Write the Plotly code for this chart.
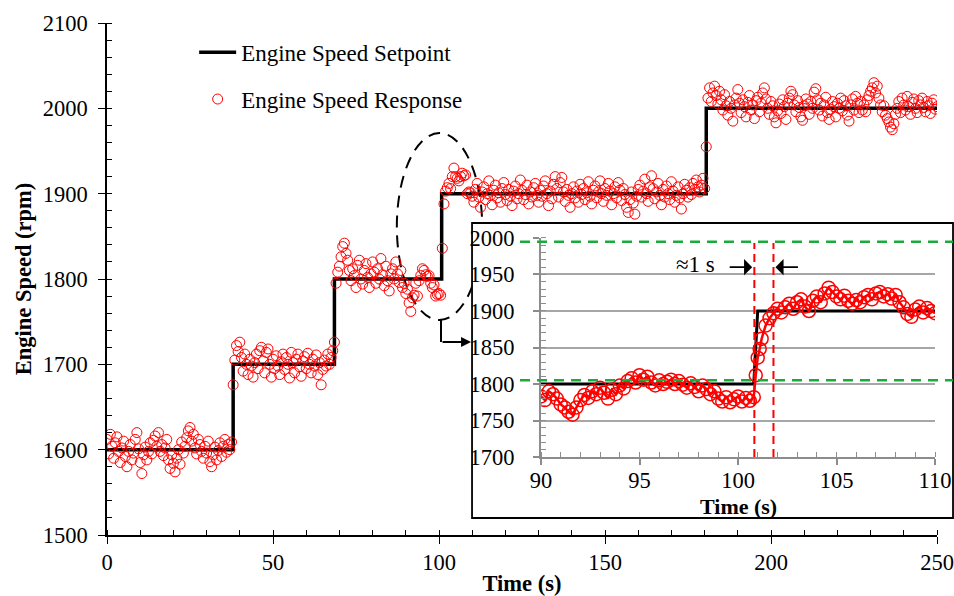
import plotly.graph_objects as go

# ---------------- data ----------------
# main chart: response sampled every 0.5 s from 0 to 250 s
main_time = [i * 0.5 for i in range(501)]

seg_1600 = [1612, 1595, 1618, 1604, 1590, 1608, 1615, 1598, 1585, 1602,
            1610, 1592, 1580, 1598, 1606, 1588, 1596, 1612, 1620, 1601,
            1585, 1572, 1594, 1603, 1588, 1598, 1608, 1595, 1611, 1616,
            1604, 1620, 1598, 1606, 1593, 1602, 1612, 1588, 1578, 1594,
            1584, 1574, 1590, 1600, 1583, 1609, 1596, 1604, 1614, 1622,
            1626, 1610, 1618, 1602, 1595, 1612, 1606, 1598, 1590, 1604,
            1596, 1610, 1586, 1580, 1594, 1603, 1588, 1599, 1608, 1592,
            1604, 1612, 1597, 1606, 1600, 1609]
step_1 = [1676]
seg_1700 = [1705, 1722, 1715, 1726, 1708, 1692, 1712, 1700, 1688, 1706,
            1698, 1685, 1702, 1712, 1695, 1716, 1720, 1704, 1690, 1714,
            1718, 1700, 1685, 1706, 1695, 1710, 1698, 1688, 1703, 1712,
            1694, 1708, 1700, 1684, 1714, 1702, 1690, 1706, 1712, 1697,
            1686, 1704, 1709, 1695, 1713, 1700, 1690, 1706, 1698, 1711,
            1688, 1702, 1676, 1694, 1705, 1698, 1712, 1700, 1708, 1716]
step_2 = [1726]
seg_1800 = [1795, 1808, 1815, 1826, 1838, 1842, 1830, 1822, 1810, 1798,
            1812, 1804, 1790, 1816, 1822, 1800, 1794, 1810, 1818, 1802,
            1790, 1806, 1820, 1808, 1795, 1812, 1800, 1824, 1805, 1792,
            1815, 1798, 1786, 1806, 1812, 1800, 1820, 1806, 1796, 1810,
            1790, 1795, 1783, 1788, 1772, 1762, 1778, 1781, 1795, 1780,
            1798, 1804, 1812, 1810, 1805, 1803, 1804, 1795, 1790, 1793,
            1780, 1782, 1783, 1781]
seg_1900 = [1836, 1888, 1903, 1907, 1912, 1906, 1920, 1930, 1920, 1918,
            1915, 1920, 1924, 1921, 1922, 1900, 1902, 1901, 1897,
            1890, 1905, 1912, 1896, 1884, 1902, 1908, 1893, 1900, 1915,
            1898, 1887, 1904, 1910, 1895, 1901, 1890, 1906, 1913, 1899,
            1892, 1905, 1897, 1886, 1903, 1909, 1894, 1900, 1916, 1904,
            1893, 1899, 1910, 1888, 1902, 1896, 1907, 1912, 1898, 1890,
            1904, 1897, 1909, 1915, 1900, 1886, 1903, 1894, 1911, 1920,
            1906, 1896, 1913, 1919, 1902, 1891, 1905, 1898, 1884, 1900,
            1908, 1895, 1903, 1890, 1911, 1899, 1906, 1893, 1901, 1914,
            1897, 1888, 1904, 1909, 1895, 1902, 1915, 1900, 1891, 1906,
            1898, 1912, 1903, 1887, 1900, 1908, 1895, 1913, 1904, 1892,
            1906, 1899, 1884, 1878, 1893, 1902, 1889, 1876, 1897, 1905,
            1910, 1896, 1903, 1917, 1900, 1891, 1908, 1921, 1906, 1894,
            1902, 1912, 1898, 1887, 1905, 1896, 1909, 1900, 1893, 1914,
            1903, 1890, 1898, 1908, 1895, 1882, 1900, 1911, 1904, 1896,
            1907, 1899, 1912, 1905, 1916, 1908, 1902, 1910, 1918, 1906]
step_3 = [1955]
seg_2000 = [2012, 2024, 2008, 2018, 2026, 2015, 2005, 2020, 2010, 1998,
            2016, 2003, 1992, 2008, 2000, 1985, 2004, 2012, 2022, 2006,
            1995, 2010, 2002, 1990, 2007, 2015, 1998, 2004, 1988, 2009,
            2013, 1996, 2006, 2018, 2024, 2011, 2000, 1993, 2008, 2003,
            1990, 1983, 1997, 2005, 1994, 2010, 2002, 1987, 2006, 2012,
            2020, 2016, 2004, 1996, 2009, 2001, 1990, 1986, 2003, 2011,
            2005, 1993, 2008, 2000, 2019, 2023, 2010, 1998, 2006, 1991,
            2004, 2013, 1995, 1987, 1999, 2008, 2002, 1990, 2006, 2000,
            2012, 1997, 2009, 2003, 1992, 1985, 2004, 2011, 1998, 2014,
            2006, 1995, 2008, 1998, 2004, 1996, 2010, 2015, 2020, 2024,
            2030, 2018, 2026, 2012, 2004, 1996, 2003, 1992, 1988, 1984,
            1978, 1975, 1982, 1993, 2000, 2008, 1995, 2012, 2004, 1998,
            2014, 2002, 1993, 2007, 2011, 2000, 1995, 2009, 2004, 2012,
            2001, 1996, 2008, 2003, 1994, 2006, 2010, 1999, 2002]
main_rpm = seg_1600 + step_1 + seg_1700 + step_2 + seg_1800 + seg_1900 + step_3 + seg_2000

setpoint_time = [0, 38, 68.5, 100.8, 180.5, 250]
setpoint_rpm = [1600, 1700, 1800, 1900, 2000, 2000]

# inset (zoom of 90-110 s)
inset_time = ([round(90 + 0.2 * i, 1) for i in range(55)]
              + [100.9, 101.0, 101.1, 101.2, 101.4, 101.6, 101.8]
              + [round(102 + 0.2 * i, 1) for i in range(41)])
inset_rpm = [1783, 1778, 1790, 1786, 1780, 1772, 1768, 1762, 1758, 1768,
             1778, 1785, 1781, 1790, 1786, 1795, 1788, 1780, 1792, 1786,
             1798, 1794, 1804, 1808, 1802, 1812, 1806, 1810, 1802, 1798,
             1805, 1800, 1803, 1806, 1800, 1804, 1799, 1795, 1801, 1796,
             1790, 1798, 1793, 1786, 1790, 1780, 1776, 1782, 1775, 1779,
             1783, 1776, 1781, 1777, 1782,
             1812, 1836, 1848, 1862, 1880, 1890, 1897,
             1903, 1898, 1905, 1910, 1903, 1912, 1916, 1906, 1900, 1914,
             1920, 1912, 1924, 1932, 1926, 1920, 1916, 1921, 1914, 1910,
             1915, 1912, 1919, 1922, 1916, 1924, 1926, 1920, 1923, 1917,
             1922, 1912, 1905, 1896, 1892, 1902, 1906, 1898, 1904, 1900,
             1897]
inset_set_time = [90, 100.8, 101.0, 110]
inset_set_rpm = [1800, 1800, 1900, 1900]

band_upper, band_lower = 1995, 1805
settle_start, settle_end = 100.83, 101.8

FONT = "Liberation Serif"
RED = "#ff0000"

fig = go.Figure()

fig.add_trace(go.Scatter(
    x=setpoint_time, y=setpoint_rpm, mode="lines", line_shape="hv",
    line=dict(color="black", width=3.5), name="Engine Speed Setpoint",
    legendgroup="a"))
fig.add_trace(go.Scatter(
    x=main_time, y=main_rpm, mode="markers",
    marker=dict(symbol="circle-open", size=10, color=RED, line=dict(width=1)),
    name="Engine Speed Response", legendgroup="b"))

fig.add_trace(go.Scatter(
    x=inset_set_time, y=inset_set_rpm, mode="lines",
    line=dict(color="black", width=3), xaxis="x2", yaxis="y2", showlegend=False))
fig.add_trace(go.Scatter(
    x=inset_time, y=inset_rpm, mode="lines+markers",
    line=dict(color=RED, width=2.5),
    marker=dict(symbol="circle-open", size=13, color=RED, line=dict(width=1.5)),
    xaxis="x2", yaxis="y2", showlegend=False))

tickfont = dict(family=FONT, size=22.5, color="black")
titlefont = dict(family=FONT, size=22.5, color="black", weight="bold")

fig.update_layout(
    template="none",
    width=954, height=596,
    margin=dict(l=107, r=17, t=23, b=61, autoexpand=False),
    paper_bgcolor="white", plot_bgcolor="white",
    font=dict(family=FONT, color="black"),
    showlegend=True,
    legend=dict(x=0.105, y=0.985, xanchor="left", yanchor="top",
                font=dict(family=FONT, size=23, color="black"),
                itemwidth=37,
                bgcolor="rgba(0,0,0,0)", borderwidth=0, tracegroupgap=14),
    xaxis=dict(range=[0, 250], domain=[0, 1], showgrid=False, zeroline=False,
               automargin=False, ticklabeloverflow="allow",
               showline=True, linecolor="black", linewidth=1.5,
               tickmode="linear", tick0=0, dtick=50, ticks="outside", ticklen=7,
               tickwidth=1.2, tickcolor="black", tickfont=tickfont,
               ticklabelstandoff=-1,
               minor=dict(dtick=10, ticks="inside", ticklen=5, tickcolor="black", tickwidth=1),
               title=dict(text="Time (s)", font=titlefont, standoff=2)),
    yaxis=dict(range=[1500, 2100], domain=[0, 1], showgrid=False, zeroline=False,
               automargin=False, ticklabeloverflow="allow",
               showline=True, linecolor="black", linewidth=1.5,
               tickmode="linear", tick0=1500, dtick=100, ticks="outside", ticklen=7,
               tickwidth=1.2, tickcolor="black", tickfont=tickfont,
               ticklabelstandoff=6,
               minor=dict(dtick=20, ticks="inside", ticklen=5, tickcolor="black", tickwidth=1),
               title=dict(text="Engine Speed (rpm)", font=titlefont, standoff=5)),
    xaxis2=dict(range=[90, 110], domain=[0.5229, 0.9976], anchor="y2",
                automargin=False, ticklabeloverflow="allow",
                showgrid=False, zeroline=False, showline=True,
                linecolor="#8c8c8c", linewidth=2,
                tickmode="linear", tick0=90, dtick=5, ticks="outside", ticklen=6,
                tickcolor="#8c8c8c", tickwidth=1.5, tickfont=tickfont,
                ticklabelstandoff=-4,
                minor=dict(dtick=1, ticks="inside", ticklen=5, tickcolor="#8c8c8c", tickwidth=1.2)),
    yaxis2=dict(range=[1700, 2000], domain=[0.1523, 0.5801], anchor="x2",
                automargin=False, ticklabeloverflow="allow",
                showgrid=True, gridcolor="#a6a6a6", gridwidth=1.5, zeroline=False,
                showline=True, linecolor="#8c8c8c", linewidth=2,
                tickmode="linear", tick0=1700, dtick=50, ticks="outside", ticklen=6,
                tickcolor="#8c8c8c", tickwidth=1.5, tickfont=tickfont,
                ticklabelstandoff=14,
                minor=dict(dtick=10, ticks="inside", ticklen=5, tickcolor="#8c8c8c", tickwidth=1.2)),
)

shapes = [
    # dashed ellipse around the step (main plot)
    dict(type="circle", xref="x", yref="y", x0=87.3, x1=113.0, y0=1752, y1=1971,
         line=dict(color="black", width=2, dash="12px,8px"), layer="below"),
    # white cover for the inset area (main plot layer)
    dict(type="rect", xref="x", yref="y", x0=109.9, x1=260, y0=1480, y1=1866,
         fillcolor="white", line=dict(width=0), layer="below"),
    # inset frame
    dict(type="rect", xref="paper", yref="paper", x0=0.4398, x1=1.0193, y0=0.0332, y1=0.6094,
         line=dict(color="black", width=1.8), layer="above"),
    # +/-5% band lines
    dict(type="line", xref="paper", yref="y2", x0=0.4976, x1=1.0193, y0=band_upper, y1=band_upper,
         line=dict(color="#1aab3a", width=2.5, dash="10px,7px"), layer="above"),
    dict(type="line", xref="paper", yref="y2", x0=0.4976, x1=1.0193, y0=band_lower, y1=band_lower,
         line=dict(color="#1aab3a", width=2.5, dash="10px,7px"), layer="above"),
    # settling-time markers
    dict(type="line", xref="x2", yref="y2", x0=settle_start, x1=settle_start, y0=1700, y1=1993,
         line=dict(color=RED, width=2, dash="8px,5px"), layer="above"),
    dict(type="line", xref="x2", yref="y2", x0=settle_end, x1=settle_end, y0=1700, y1=1993,
         line=dict(color=RED, width=2, dash="8px,5px"), layer="above"),
    # elbow connector from ellipse to inset
    dict(type="line", xref="paper", yref="paper", x0=0.4024, x1=0.4024, y0=0.4199, y1=0.377,
         line=dict(color="black", width=2), layer="above"),
]
fig.update_layout(shapes=shapes)

annotations = [
    dict(xref="paper", yref="paper", x=0.4386, y=0.377, ax=-30, ay=0, text="",
         showarrow=True, arrowhead=2, arrowsize=1, arrowwidth=2, arrowcolor="black"),
    dict(xref="x2", yref="y2", x=100.72, y=1960, ax=-24, ay=0, text="",
         showarrow=True, arrowhead=1, arrowsize=1.5, arrowwidth=1.8, arrowcolor="black"),
    dict(xref="x2", yref="y2", x=101.9, y=1960, ax=24, ay=0, text="",
         showarrow=True, arrowhead=1, arrowsize=1.5, arrowwidth=1.8, arrowcolor="black"),
    dict(xref="x2", yref="y2", x=97.85, y=1963, text="≈1 s", showarrow=False,
         font=dict(family=FONT, size=23, color="black")),
    dict(xref="x2", yref="y2", x=110.15, y=1972, xanchor="right", text="+5% (1995)",
         showarrow=False, font=dict(family=FONT, size=23, color="black")),
    dict(xref="x2", yref="y2", x=110.5, y=1785, xanchor="right", text="-5% (1805)",
         showarrow=False, font=dict(family=FONT, size=23, color="black")),
    # inset x-axis title
    dict(xref="x2 domain", yref="paper", x=0.5, y=0.0547, yanchor="middle",
         text="<b>Time (s)</b>", showarrow=False, borderpad=0,
         font=dict(family=FONT, size=22, color="black")),
]
fig.update_layout(annotations=annotations)

fig.write_html("out.html")
